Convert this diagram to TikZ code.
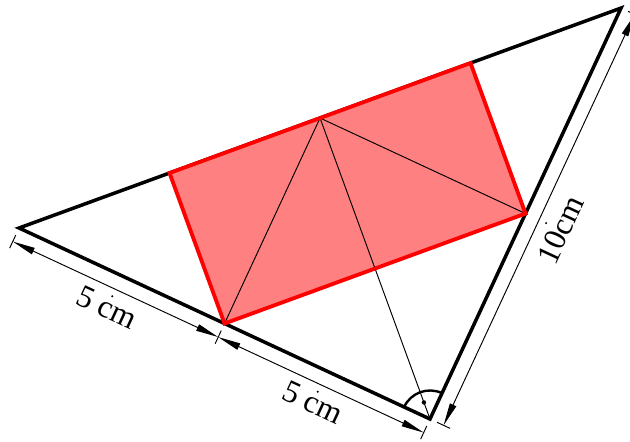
\documentclass[tikz,border=0pt]{standalone}
\usepackage{fontspec}
\setmainfont{Liberation Serif}
\usetikzlibrary{calc,arrows.meta}
\begin{document}
\begin{tikzpicture}[
  tri/.style={line width=2.2pt, line join=miter},
  thinline/.style={line width=0.6pt},
  rectborder/.style={draw=red, line width=2.4pt, line join=miter},
  rectfill/.style={fill=red!50},
  dimline/.style={line width=0.6pt, {Triangle[length=5mm,width=1.5mm]}-{Triangle[length=5mm,width=1.5mm]}},
  tickline/.style={line width=0.6pt},
  dimlabel/.style={font=\fontsize{20}{22}\selectfont, inner sep=0pt},
  rmark/.style={line width=1.5pt}
]
\useasboundingbox (0,0) rectangle (13.901,9.731);
% triangle
\coordinate (B) at (9.488,0.485);
\coordinate (A) at ($(B)+(155.07:10)$);
\coordinate (C) at ($(B)+(65.07:10)$);
\coordinate (M) at ($(A)!0.5!(B)$);
\coordinate (N) at ($(B)!0.5!(C)$);
\coordinate (P) at ($(A)!0.5!(C)$);
\coordinate (R1) at ($(A)!0.25!(C)$);
\coordinate (R2) at ($(A)!0.75!(C)$);
% dimension line ends
\coordinate (A1) at ($(A)+(245.07:0.33)$);
\coordinate (M1) at ($(M)+(245.07:0.33)$);
\coordinate (B1) at ($(B)+(245.07:0.33)$);
\coordinate (B2) at ($(B)+(335.07:0.33)$);
\coordinate (C2) at ($(C)+(335.07:0.33)$);

\draw[tri] (A) -- (B) -- (C) -- cycle;
\fill[rectfill] (M) -- (N) -- (R2) -- (R1) -- cycle;
\draw[thinline] (P) -- (M);
\draw[thinline] (P) -- (N);
\draw[thinline] (P) -- (B);
\draw[rectborder] (M) -- (N) -- (R2) -- (R1) -- cycle;

% right angle mark
\draw[rmark] ($(B)+(65.07:0.63)$) arc[start angle=65.07, end angle=155.07, radius=0.63];
\fill ($(B)+(110.07:0.39)$) circle (1.4pt);

% dimensions
\draw[dimline] (A1) -- (M1);
\draw[dimline] (M1) -- (B1);
\draw[dimline] (B2) -- (C2);
\foreach \p in {A1,M1,B1}{
  \draw[tickline] ($(\p)+(65.07:0.16)$) -- ($(\p)+(245.07:0.16)$);
}
\foreach \p in {B2,C2}{
  \draw[tickline] ($(\p)+(155.07:0.16)$) -- ($(\p)+(335.07:0.16)$);
}
\fill ($(A1)!0.5!(M1)+(245.07:0.17)$) circle (0.7pt);
\fill ($(M1)!0.5!(B1)+(245.07:0.17)$) circle (0.7pt);
\fill ($(B2)!0.5!(C2)+(335.07:0.17)$) circle (0.7pt);
\node[dimlabel, rotate=-24.93] (l1) at ($(A1)!0.5!(M1)+(245.07:0.45)$) {5 cm};
\node[dimlabel, rotate=-24.93] (l2) at ($(M1)!0.5!(B1)+(245.07:0.42)$) {5 cm};
\node[dimlabel, rotate=65.07] (l3) at ($(B2)!0.5!(C2)+(335.07:0.52)$) {10cm};
\end{tikzpicture}
\end{document}
